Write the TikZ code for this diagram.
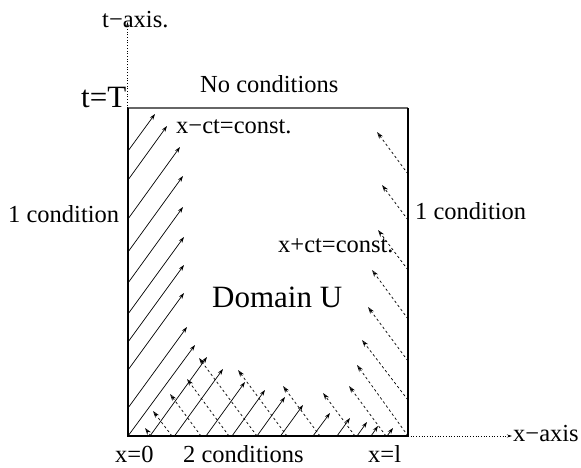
\documentclass[tikz,border=0pt]{standalone}
\usepackage{fontspec}
\setmainfont{Liberation Serif}
\usetikzlibrary{arrows.meta}
\tikzset{
  solidarr/.style={line width=0.7pt, -{Stealth[length=6pt,width=4pt]}},
  dasharr/.style={line width=0.7pt, dash pattern=on 2.5pt off 2.5pt, -{Stealth[length=7pt,width=4.5pt,open]}},
  axisarr/.style={line width=0.7pt, dotted, -{Stealth[length=5pt,width=3pt]}},
  smalltxt/.style={inner sep=0pt, anchor=base west, font=\fontsize{24.5}{28}\selectfont},
  bigtxt/.style={inner sep=0pt, anchor=base west, font=\fontsize{31}{34}\selectfont},
}
\begin{document}
\begin{tikzpicture}[x=1pt,y=-1pt]
\useasboundingbox (0,0) rectangle (581,468);
% corners of the domain
\coordinate (bl) at (127.5,436);
\coordinate (br) at (408,436);
\coordinate (tl) at (127.5,108);
\coordinate (tr) at (408,108);
\coordinate (tend) at (127.5,22);
\coordinate (xend) at (512,436);
% axes
\draw[axisarr] (tl) -- (tend);
\draw[axisarr] (br) -- (xend);
% solid arrows (x - ct = const.)
\foreach \sx/\sy/\tx/\ty in {
  128/151/155/114, 128/180/167/126, 128/219/180/147, 128/252/183/176,
  128/283/183/207, 128/314/184/237, 128/342/184/265, 128/370/184/293,
  128/408/187/327, 128/436/195/345,
  150/436/207/357, 174.5/436/223/369, 206/436/245/382, 232/436/265/390,
  257/436/285/397, 280.5/436/303/405, 313/436/330/413, 337/436/350/418,
  357/436/367/422, 371/436/378/426, 387/436/393/428}
  \draw[solidarr] (\sx,\sy) -- (\tx,\ty);
% dashed arrows (x + ct = const.)
\foreach \sx/\sy/\tx/\ty in {
  151/436/145/428, 172/436/153/411, 201/436/170/394, 229/436/187/379,
  257/436/199/358, 287/436/238/370, 320/436/283/386, 355/436/323/393,
  386/436/349/386, 408/436/357/365,
  408/400/362/340, 408/361/368/307, 408/319/372/270, 408/270/378/230,
  408/220/382/185, 408/174/377/132}
  \draw[dasharr] (\sx,\sy) -- (\tx,\ty);
% domain boundary
\draw[line width=1.1pt, black!60] (tl) -- (tr);
\draw[line width=1.3pt] (tr) -- (br);
\draw[line width=2pt] (tl) -- (bl) -- (br);
% labels
\node[smalltxt] (taxis) at (102,28) {t−axis.};
\node[bigtxt] (tT) at (81,108) {t=T};
\node[smalltxt] (nocond) at (200,93) {No conditions};
\node[smalltxt] (xmct) at (176,134) {x−ct=const.};
\node[smalltxt] (lcond) at (8,222) {1 condition};
\node[smalltxt] (rcond) at (415,219) {1 condition};
\node[smalltxt] (xpct) at (278,252) {x+ct=const.};
\node[bigtxt] (dom) at (212,307) {Domain U};
\node[smalltxt] (x0) at (115,462) {x=0};
\node[smalltxt] (twocond) at (183,462) {2 conditions};
\node[smalltxt] (xl) at (368,462) {x=l};
\node[smalltxt] (xaxis) at (513,441) {x−axis};
\end{tikzpicture}
\end{document}
